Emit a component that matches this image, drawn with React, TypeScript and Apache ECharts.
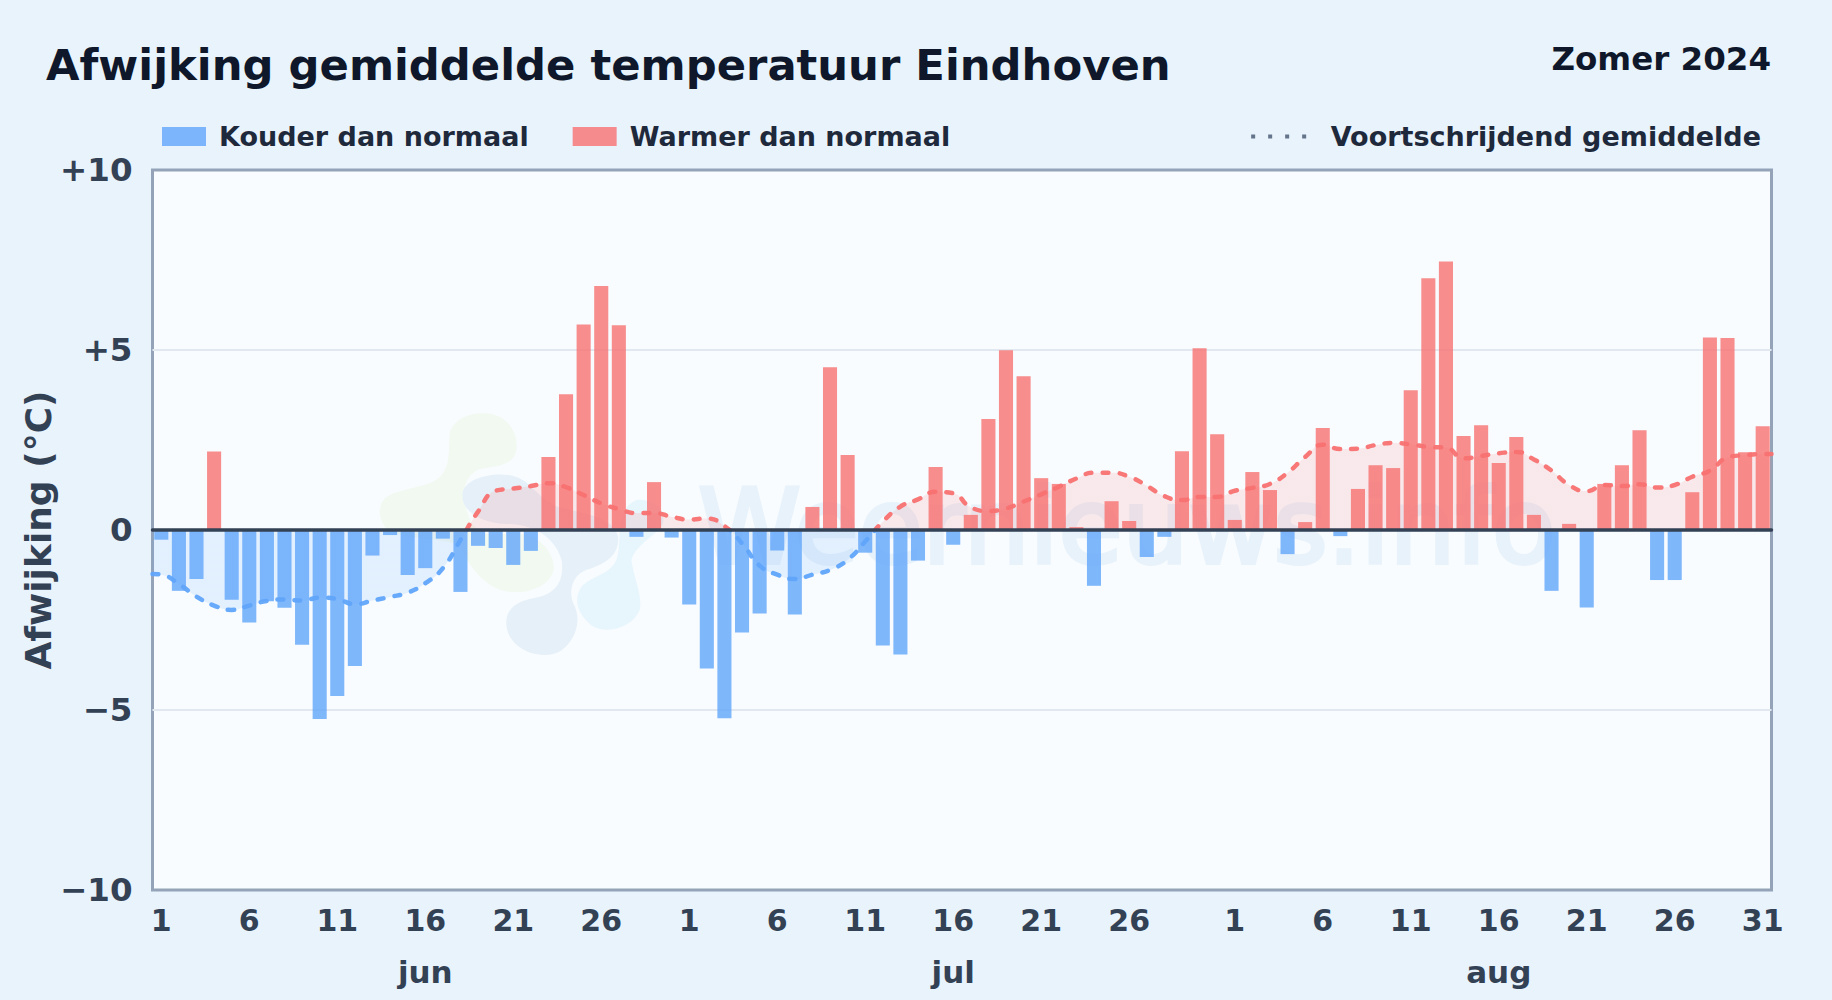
import React, { useEffect, useRef } from "react";
import * as echarts from "echarts";

const TITLE = "Afwijking gemiddelde temperatuur Eindhoven";
const SUBTITLE = "Zomer 2024";
const COLD_NAME = "Kouder dan normaal";
const WARM_NAME = "Warmer dan normaal";
const AVG_NAME = "Voortschrijdend gemiddelde";
const Y_NAME = "Afwijking (°C)";
const WATERMARK = "Weernieuws.info";

const june = [-0.27,-1.69,-1.36,2.18,-1.94,-2.57,-1.98,-2.16,-3.19,-5.25,-4.61,-3.78,-0.71,-0.14,-1.25,-1.06,-0.24,-1.72,-0.44,-0.5,-0.97,-0.58,2.03,3.77,5.71,6.78,5.69,-0.19,1.33,-0.21];
const july = [-2.07,-3.85,-5.23,-2.85,-2.32,-0.57,-2.35,0.64,4.52,2.08,-0.63,-3.21,-3.46,-0.85,1.75,-0.41,0.42,3.08,4.99,4.27,1.44,1.28,0.08,-1.55,0.8,0.25,-0.75,-0.19,2.19,5.05,2.66];
const august = [0.28,1.61,1.11,-0.67,0.22,2.83,-0.17,1.14,1.8,1.72,3.88,6.99,7.46,2.61,2.91,1.86,2.58,0.42,-1.69,0.17,-2.15,1.28,1.8,2.77,-1.39,-1.39,1.05,5.35,5.33,2.16,2.88];

const avgJune = [-1.24,-1.5,-1.85,-2.1,-2.22,-2.1,-1.97,-1.93,-1.96,-1.88,-1.92,-2.06,-1.96,-1.86,-1.74,-1.48,-1.06,-0.28,0.51,1.09,1.15,1.22,1.3,1.19,0.97,0.74,0.58,0.47,0.47,0.37];
const avgJuly = [0.29,0.32,0.11,-0.37,-0.99,-1.24,-1.36,-1.24,-1.11,-0.83,-0.32,0.23,0.65,0.85,1.06,1.02,0.63,0.53,0.6,0.79,0.99,1.2,1.43,1.59,1.59,1.48,1.23,0.94,0.83,0.92,0.92];
const avgAugust = [1.09,1.17,1.28,1.59,2.03,2.37,2.25,2.26,2.36,2.42,2.38,2.31,2.29,1.99,2.06,2.13,2.17,1.96,1.65,1.25,1.08,1.25,1.22,1.27,1.18,1.25,1.48,1.65,2.01,2.08,2.11];
const avgStart = -1.22;
const avgEnd = 2.11;

const monthNames = ["jun", "jul", "aug"];
const monthLengths = [june.length, july.length, august.length];
const MONTH_LABEL_DAY = 16;

const values = [...june, ...july, ...august];
const average = [...avgJune, ...avgJuly, ...avgAugust];
const dayLabels = monthLengths.flatMap((n) => Array.from({ length: n }, (_, i) => String(i + 1)));
const monthAxis: string[] = dayLabels.map(() => "");
{
  let offset = 0;
  monthLengths.forEach((n, m) => {
    monthAxis[offset + MONTH_LABEL_DAY - 1] = monthNames[m];
    offset += n;
  });
}
const coldValues = values.map((v) => (v < 0 ? v : null));
const warmValues = values.map((v) => (v >= 0 ? v : null));
const avgPoints: number[][] = [
  [0, avgStart],
  ...average.map((v, i) => [i + 0.5, v]),
  [values.length, avgEnd],
];

const FONT = "DejaVu Sans";
const GRID_TOP = 170;
const GRID_H = 720;

const splitAtZero = () => ({
  type: "linear", x: 0, y: GRID_TOP, x2: 0, y2: GRID_TOP + GRID_H, global: true,
  colorStops: [
    { offset: 0, color: "#f87171" }, { offset: 0.5, color: "#f87171" },
    { offset: 0.5, color: "#60a5fa" }, { offset: 1, color: "#60a5fa" },
  ],
});

echarts.graphic.registerShape("logoGreen", echarts.graphic.extendPath(
  "M240 95C255 55 300 38 345 40C410 42 445 95 440 145C436 190 395 198 340 205C290 215 270 270 290 330C310 400 340 410 430 400C500 400 552 450 552 505C545 560 470 585 410 575C340 560 300 500 270 440C240 415 120 420 60 395C25 370 20 320 45 295C80 265 170 265 205 235C245 205 235 140 240 95Z", {}));
echarts.graphic.registerShape("logoSlate", echarts.graphic.extendPath(
  "M278 280C285 235 370 215 430 228C480 240 500 290 560 320C640 340 730 350 745 410C750 470 700 495 650 510C610 525 595 570 610 610C635 650 625 720 570 755C520 780 440 760 415 700C395 640 430 605 490 595C560 585 585 540 575 480C560 420 500 375 420 372C350 375 270 340 278 280Z", {}));
echarts.graphic.registerShape("logoSky", echarts.graphic.extendPath(
  "M800 300C850 295 890 330 880 370C860 410 800 430 785 480C790 530 820 590 810 630C790 680 720 705 670 680C630 650 610 610 630 570C650 530 720 530 740 480C760 430 730 330 800 300Z", {}));

export default function App() {
  const ref = useRef<HTMLDivElement>(null);
  useEffect(() => {
    const chart = echarts.init(ref.current!, undefined, { renderer: "svg" });
    const logo = (type: string, fill: string) => ({
      type, x: 370, y: 400, scaleX: 1 / 3, scaleY: 1 / 3, z: 1, silent: true, style: { fill },
    });
    chart.setOption({
      animation: false,
      backgroundColor: "#e8f3fc",
      textStyle: { fontFamily: FONT },
      title: [
        { text: TITLE, left: 46, top: 43, padding: 0, textStyle: { fontFamily: FONT, fontSize: 43.3, fontWeight: "bold", color: "#0f172a" } },
        { text: SUBTITLE, right: 61, top: 42, padding: 0, textStyle: { fontFamily: FONT, fontSize: 32.5, fontWeight: "bold", color: "#0f172a" } },
      ],
      legend: [
        {
          left: 162, top: 123, padding: 0, itemWidth: 44, itemHeight: 19, itemGap: 44, selectedMode: false,
          icon: "rect", data: [COLD_NAME, WARM_NAME],
          textStyle: { fontFamily: FONT, fontSize: 27, fontWeight: "bold", color: "#1e293b", padding: [0, 0, 0, 8] },
        },
        {
          right: 71, top: 123, padding: 0, itemWidth: 56, itemHeight: 4, selectedMode: false,
          data: [{ name: AVG_NAME, icon: "path://M0 0h4v4h-4zM17 0h4v4h-4zM34 0h4v4h-4zM51 0h4v4h-4z", itemStyle: { color: "#64748b", opacity: 1 } }],
          textStyle: { fontFamily: FONT, fontSize: 27, fontWeight: "bold", color: "#1e293b", padding: [0, 0, 0, 19] },
        },
      ],
      grid: { left: 152.5, top: GRID_TOP, width: 1619, height: GRID_H, show: true, backgroundColor: "#f8fcff", borderColor: "#94a3b8", borderWidth: 3 },
      xAxis: [
        {
          type: "category", data: dayLabels, position: "bottom",
          axisLine: { show: false, onZero: false }, axisTick: { show: false }, splitLine: { show: false },
          axisLabel: {
            margin: 15, fontFamily: FONT, fontSize: 30, fontWeight: "bold", color: "#334155",
            interval: (i: number, v: string) => (Number(v) - 1) % 5 === 0 && (v !== "31" || i === dayLabels.length - 1),
          },
        },
        {
          type: "value", min: 0, max: values.length, position: "bottom", z: 10,
          axisLine: { show: true, onZero: true, lineStyle: { color: "#334155", width: 3.5 } },
          axisTick: { show: false }, axisLabel: { show: false }, splitLine: { show: false },
        },
        {
          type: "category", data: monthAxis, position: "bottom", offset: 51,
          axisLine: { show: false, onZero: false }, axisTick: { show: false }, splitLine: { show: false },
          axisLabel: { interval: 0, margin: 15, fontFamily: FONT, fontSize: 31, fontWeight: "bold", color: "#334155" },
        },
      ],
      yAxis: {
        type: "value", min: -10, max: 10, interval: 5,
        name: Y_NAME, nameLocation: "middle", nameGap: 96, nameMoveOverlap: false,
        nameTextStyle: { fontFamily: FONT, fontSize: 36, fontWeight: "bold", color: "#334155" },
        axisLine: { show: false }, axisTick: { show: false },
        splitLine: { show: true, showMinLine: false, showMaxLine: false, lineStyle: { color: "#e2e8f0", width: 2 } },
        axisLabel: {
          margin: 20, fontFamily: FONT, fontSize: 32.5, fontWeight: "bold", color: "#334155",
          formatter: (v: number) => (v > 0 ? `+${v}` : v < 0 ? `\u2212${Math.abs(v)}` : "0"),
        },
      },
      series: [
        { name: COLD_NAME, type: "bar", data: coldValues, barWidth: "80%", barGap: "-100%", itemStyle: { color: "#60a5fa", opacity: 0.8 } },
        { name: WARM_NAME, type: "bar", data: warmValues, barWidth: "80%", barGap: "-100%", itemStyle: { color: "#f87171", opacity: 0.8 } },
        {
          name: AVG_NAME, type: "line", xAxisIndex: 1, data: avgPoints, smooth: true, showSymbol: false, symbol: "none",
          lineStyle: { width: 4.5, type: [6, 11], cap: "round", opacity: 0.95, color: splitAtZero() },
          areaStyle: { opacity: 0.14, color: splitAtZero() }, z: 4,
        },
      ],
      graphic: [
        logo("logoGreen", "#f2f9f1"),
        logo("logoSlate", "#e6f0f8"),
        logo("logoSky", "#e7f5fd"),
        {
          type: "text", left: 696, top: 473, z: 1, silent: true,
          style: { text: WATERMARK, fontFamily: FONT, fontSize: 104, fill: "#e8f2fb", stroke: "#e8f2fb", lineWidth: 4 },
        },
      ],
    });
    return () => chart.dispose();
  }, []);
  return <div ref={ref} style={{ position: "fixed", left: 0, top: 0, width: 1832, height: 1000 }} />;
}
